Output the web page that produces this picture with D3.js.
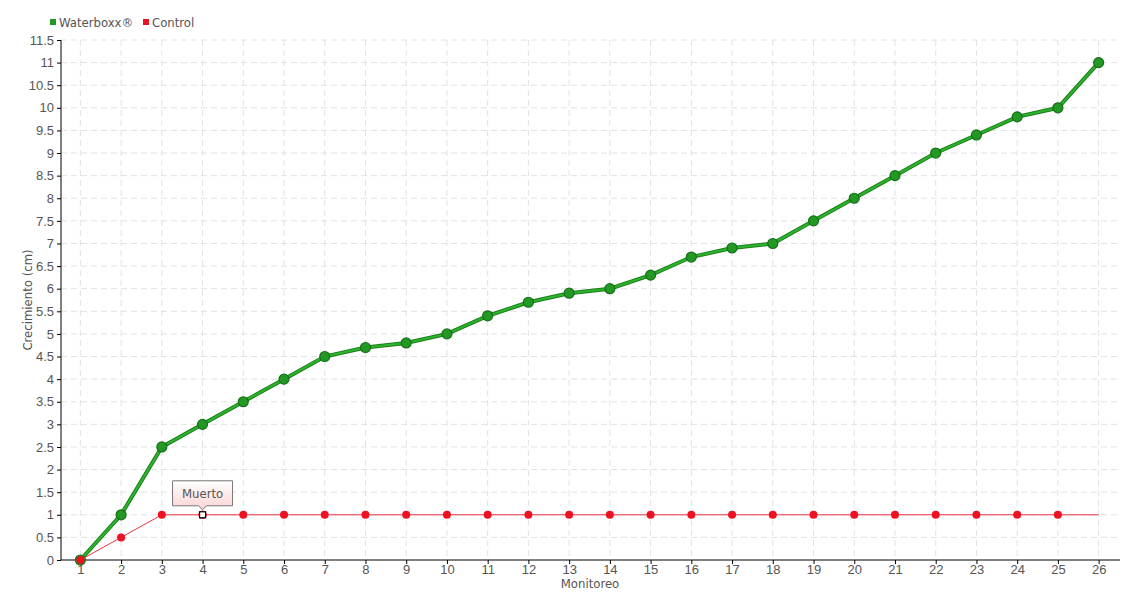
<!DOCTYPE html>
<html>
<head>
<meta charset="utf-8">
<script src="https://cdn.jsdelivr.net/npm/d3@7"></script>
<style>
  body { margin: 0; background: #fff; }
  svg { font-family: "DejaVu Sans Condensed", "DejaVu Sans", sans-serif; font-stretch: condensed; }
  .grid line { stroke: #e2e2e2; stroke-dasharray: 6,4; }
  .axis text { fill: #555; font-size: 13px; }
  .axis path, .axis line { stroke: #000; }
</style>
</head>
<body>
<div id="chart"></div>
<script>
// monitoring rounds
var monitoreo = d3.range(1, 27);
var waterboxx = [0, 1, 2.5, 3, 3.5, 4, 4.5, 4.7, 4.8, 5, 5.4, 5.7, 5.9, 6, 6.3, 6.7, 6.9, 7, 7.5, 8, 8.5, 9, 9.4, 9.8, 10, 11];
var control = [0, 0.5, 1, 1, 1, 1, 1, 1, 1, 1, 1, 1, 1, 1, 1, 1, 1, 1, 1, 1, 1, 1, 1, 1, 1, 1];
var yTicks = d3.range(0, 11.51, 0.5);
var muertoAt = 4;

var width = 1140, height = 600;
var svg = d3.select('#chart').append('svg')
    .attr('width', width)
    .attr('height', height);

var x = d3.scaleLinear().domain([0.5, 26.5]).range([60, 1119]);
var y = d3.scaleLinear().domain([0, 11.5]).range([560, 40]);

var defs = svg.append('defs');
var grad = defs.append('linearGradient').attr('id', 'tipGrad')
    .attr('x1', 0).attr('y1', 0).attr('x2', 0).attr('y2', 1);
grad.append('stop').attr('offset', '0%').attr('stop-color', '#fff');
grad.append('stop').attr('offset', '100%').attr('stop-color', '#fbd3d3');

// grid
var grid = svg.append('g').attr('class', 'grid');
grid.selectAll('.h').data(yTicks.slice(1)).join('line')
    .attr('x1', 61).attr('x2', 1120)
    .attr('y1', d => y(d)).attr('y2', d => y(d));
grid.selectAll('.v').data(monitoreo).join('line')
    .attr('x1', d => x(d)).attr('x2', d => x(d))
    .attr('y1', 40).attr('y2', 560);

// axes
svg.append('g').attr('class', 'axis')
    .attr('transform', 'translate(61,0)')
    .call(d3.axisLeft(y).tickValues(yTicks).tickSize(4).tickPadding(3)
        .tickFormat(d => String(d)))
    .call(g => g.select('.domain').attr('d', 'M0,40V560'));

svg.append('g').attr('class', 'axis')
    .attr('transform', 'translate(0,560)')
    .call(d3.axisBottom(x).tickValues(monitoreo).tickSize(4).tickPadding(1)
        .tickFormat(d3.format('d')))
    .call(g => g.select('.domain').attr('d', 'M61,0H1120'));

// titles
svg.append('text')
    .attr('x', 590).attr('y', 588)
    .attr('text-anchor', 'middle')
    .attr('fill', '#555').attr('font-size', 13)
    .text('Monitoreo');
svg.append('text')
    .attr('transform', 'translate(32,300) rotate(-90)')
    .attr('text-anchor', 'middle')
    .attr('fill', '#555').attr('font-size', 13)
    .text('Crecimiento (cm)');

var line = d3.line().x((d, i) => x(monitoreo[i])).y(d => y(d));

// waterboxx series
svg.append('path').datum(waterboxx)
    .attr('d', line).attr('fill', 'none')
    .attr('stroke', '#1d7d1d').attr('stroke-width', 4);
svg.append('path').datum(waterboxx)
    .attr('d', line).attr('fill', 'none')
    .attr('stroke', '#2bb52b').attr('stroke-width', 2);
svg.selectAll('.wp').data(waterboxx).join('circle')
    .attr('cx', (d, i) => x(monitoreo[i])).attr('cy', d => y(d))
    .attr('r', 5).attr('fill', '#229922').attr('stroke', '#16701a').attr('stroke-width', 1.2);

// control series
svg.append('path').datum(control)
    .attr('d', line).attr('fill', 'none')
    .attr('stroke', '#ee3344').attr('stroke-width', 1);
svg.selectAll('.cp').data(control).join('circle')
    .filter((d, i) => monitoreo[i] !== muertoAt)
    .attr('cx', (d, i) => x(monitoreo[i])).attr('cy', d => y(d))
    .attr('r', 4).attr('fill', '#ee1122');

// dead marker
var mx = x(muertoAt), my = y(control[muertoAt - 1]);
svg.append('circle').attr('cx', mx).attr('cy', my).attr('r', 4).attr('fill', '#ee1122');
svg.append('rect').attr('x', mx - 3).attr('y', my - 3).attr('width', 6).attr('height', 6)
    .attr('fill', '#fff').attr('stroke', '#000').attr('stroke-width', 1.2);

// tooltip
var tw = 60, th = 25, tx = mx - 30, ty = my - 34;
svg.append('path')
    .attr('d', `M${tx},${ty}H${tx + tw}V${ty + th}H${mx + 4}L${mx},${ty + th + 4}L${mx - 4},${ty + th}H${tx}Z`)
    .attr('fill', 'url(#tipGrad)').attr('stroke', '#777').attr('stroke-width', 1);
svg.append('text')
    .attr('x', mx).attr('y', ty + 17).attr('text-anchor', 'middle')
    .attr('fill', '#555').attr('font-size', 13).text('Muerto');

// legend
var legend = svg.append('g').attr('transform', 'translate(50,22)');
var items = [{ name: 'Waterboxx®', color: '#229922', x: 0 }, { name: 'Control', color: '#ee1122', x: 93 }];
var li = legend.selectAll('g').data(items).join('g')
    .attr('transform', d => `translate(${d.x},0)`);
li.append('rect').attr('x', 0).attr('y', -3).attr('width', 6).attr('height', 6).attr('fill', d => d.color);
li.append('text').attr('x', 9).attr('y', 5).attr('fill', '#555').attr('font-size', 13).text(d => d.name);
</script>
</body>
</html>
